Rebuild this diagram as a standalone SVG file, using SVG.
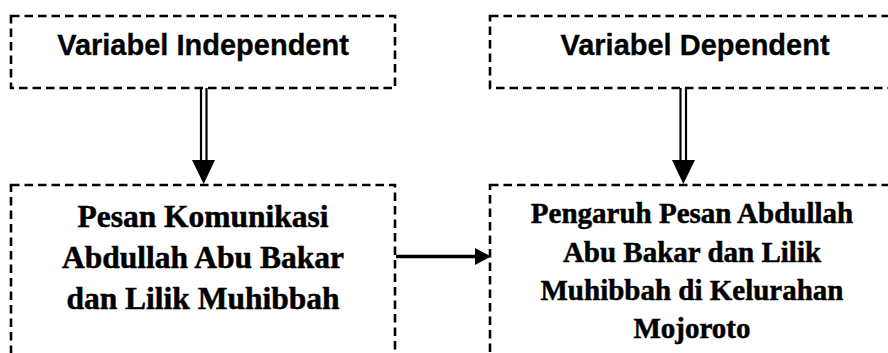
<svg xmlns="http://www.w3.org/2000/svg" width="888" height="353" viewBox="0 0 888 353">
<style>
.box{fill:none;stroke:#000;stroke-width:2.6;stroke-dasharray:8.5 5}
.t1{font-family:"Liberation Sans",Arial,sans-serif;font-weight:bold;font-size:29px;text-anchor:middle;fill:#000;stroke:#000;stroke-width:0.3}
.t2{font-family:"Liberation Serif","Times New Roman",serif;font-weight:bold;text-anchor:middle;fill:#000;stroke:#000;stroke-width:0.5}
.ln{stroke:#000;fill:none}
</style>
<rect width="888" height="353" fill="#fff"/>
<g id="independent">
<rect class="box" x="11" y="16" width="384" height="72"/>
<text class="t1" x="203" y="55">Variabel Independent</text>
</g>
<g id="dependent">
<rect class="box" x="490" y="16" width="410" height="72"/>
<text class="t1" x="695" y="55">Variabel Dependent</text>
</g>
<g id="pesan">
<rect class="box" x="11" y="185" width="384" height="200"/>
<text class="t2" font-size="31.5" x="203" y="227">Pesan Komunikasi</text>
<text class="t2" font-size="31.5" x="203" y="268">Abdullah Abu Bakar</text>
<text class="t2" font-size="31.5" x="203" y="309">dan Lilik Muhibbah</text>
</g>
<g id="pengaruh">
<rect class="box" x="490" y="185" width="410" height="200"/>
<text class="t2" font-size="29" x="692" y="223">Pengaruh Pesan Abdullah</text>
<text class="t2" font-size="29" x="692" y="262">Abu Bakar dan Lilik</text>
<text class="t2" font-size="29" x="692" y="300">Muhibbah di Kelurahan</text>
<text class="t2" font-size="29" x="692" y="338">Mojoroto</text>
</g>
<g id="connectors">
<line class="ln" stroke-width="2.2" x1="201" y1="88" x2="201" y2="161"/>
<line class="ln" stroke-width="2.2" x1="206.5" y1="88" x2="206.5" y2="161"/>
<polygon points="192,160 215,160 203.7,184" fill="#000"/>
<line class="ln" stroke-width="2.2" x1="680.5" y1="88" x2="680.5" y2="161"/>
<line class="ln" stroke-width="2.2" x1="686" y1="88" x2="686" y2="161"/>
<polygon points="672,160 695,160 683.3,184" fill="#000"/>
<line class="ln" stroke-width="3.5" x1="396" y1="256.5" x2="477" y2="256.5"/>
<polygon points="475,248 475,265 491,256.5" fill="#000"/>
</g>
</svg>
